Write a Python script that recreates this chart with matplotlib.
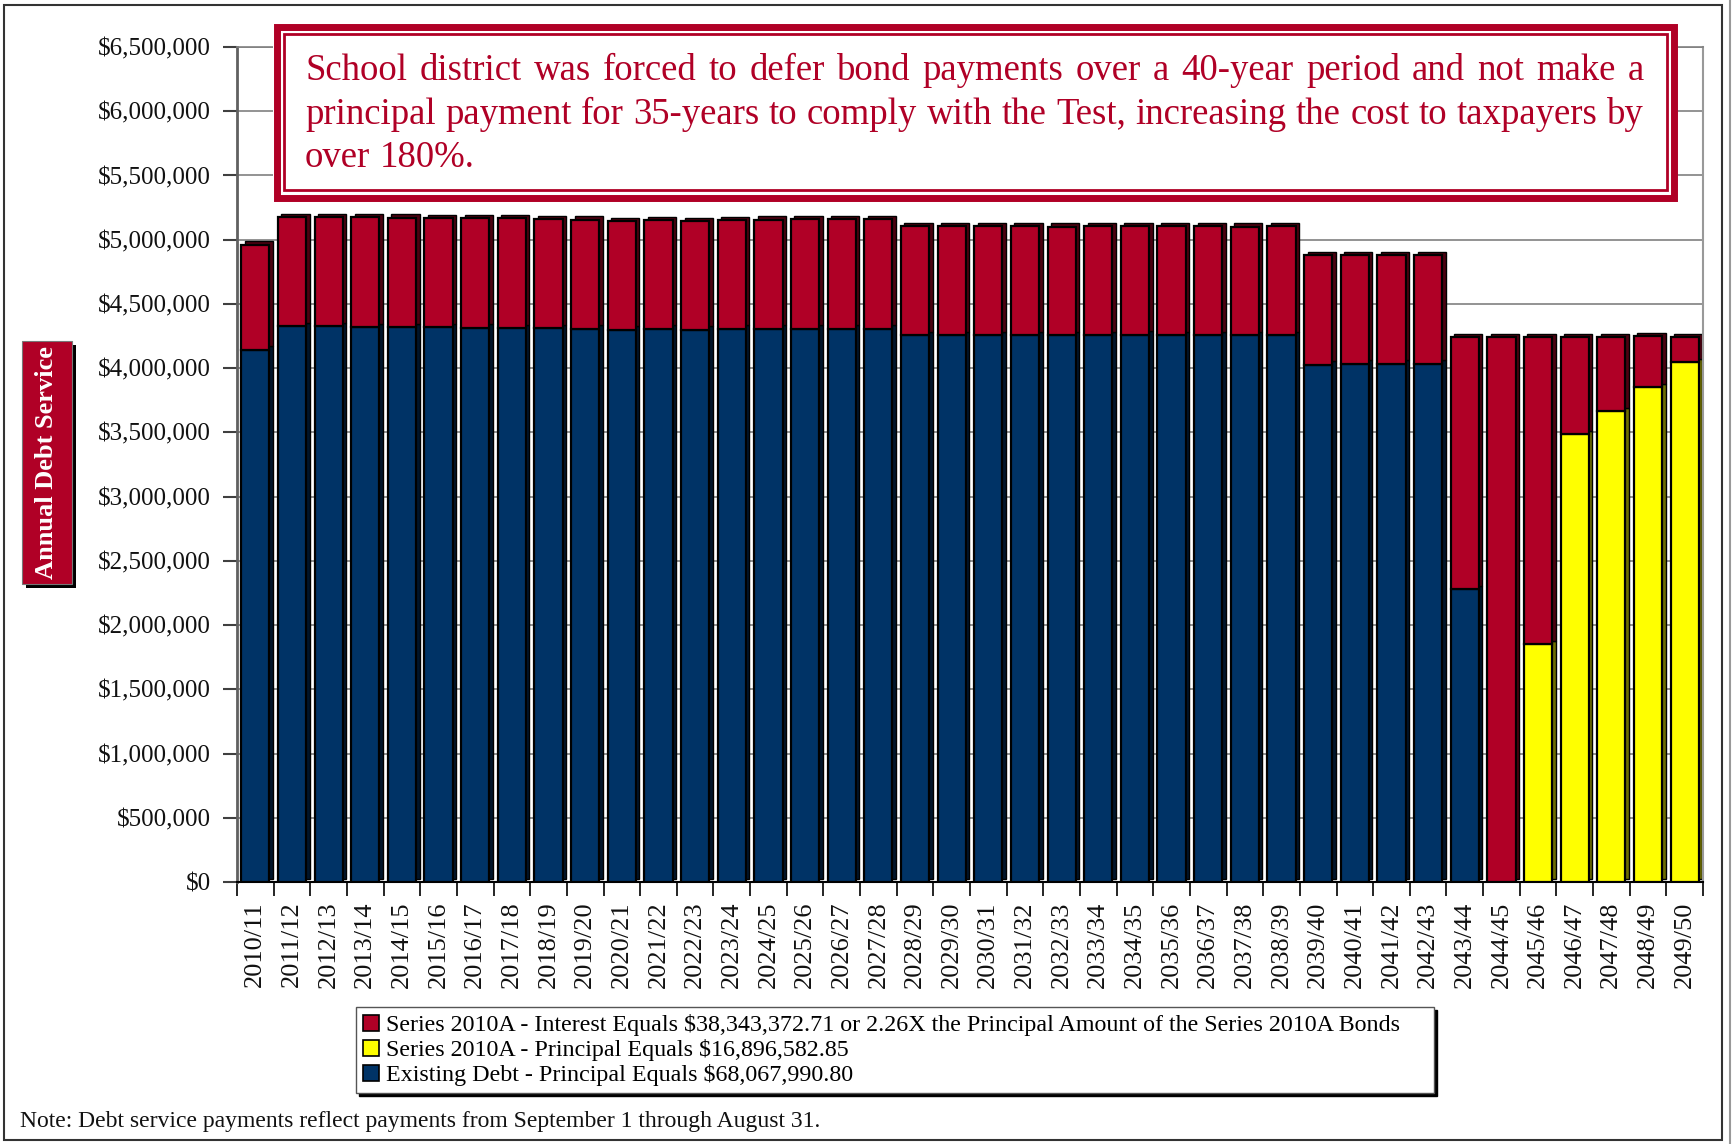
import matplotlib.pyplot as plt
import matplotlib.transforms as mtransforms
from matplotlib.patches import Rectangle, Patch
from matplotlib.ticker import FuncFormatter, FixedLocator
from matplotlib.lines import Line2D
import numpy as np

years = ['2010/11', '2011/12', '2012/13', '2013/14', '2014/15', '2015/16', '2016/17',
         '2017/18', '2018/19', '2019/20', '2020/21', '2021/22', '2022/23', '2023/24',
         '2024/25', '2025/26', '2026/27', '2027/28', '2028/29', '2029/30', '2030/31',
         '2031/32', '2032/33', '2033/34', '2034/35', '2035/36', '2036/37', '2037/38',
         '2038/39', '2039/40', '2040/41', '2041/42', '2042/43', '2043/44', '2044/45',
         '2045/46', '2046/47', '2047/48', '2048/49', '2049/50']

# existing debt service (blue)
existing_debt = [4145000, 4325000, 4325000, 4320000, 4320000, 4320000, 4315000,
                 4310000, 4310000, 4305000, 4300000, 4305000, 4300000, 4305000,
                 4305000, 4305000, 4305000, 4305000, 4255000, 4255000, 4255000,
                 4255000, 4255000, 4255000, 4260000, 4255000, 4255000, 4255000,
                 4255000, 4025000, 4035000, 4035000, 4035000, 2280000, 0,
                 0, 0, 0, 0, 0]

# series 2010A principal (yellow)
series_principal = [0] * 35 + [1850000, 3485000, 3665000, 3850000, 4045000]

# series 2010A interest (red)
series_interest = [815000, 850000, 850000, 855000, 850000, 845000, 850000,
                   855000, 850000, 850000, 845000, 845000, 845000, 845000,
                   850000, 855000, 855000, 855000, 850000, 850000, 850000,
                   850000, 845000, 850000, 845000, 850000, 850000, 845000,
                   850000, 855000, 845000, 845000, 845000, 1960000, 4240000,
                   2390000, 755000, 575000, 400000, 195000]

legend_labels = ['Series 2010A - Interest Equals $38,343,372.71 or 2.26X the Principal Amount of the Series 2010A Bonds',
                 'Series 2010A - Principal Equals $16,896,582.85',
                 'Existing Debt - Principal Equals $68,067,990.80']

note_text = 'Note: Debt service payments reflect payments from September 1 through August 31.'
callout_lines = ['School district was forced to defer bond payments over a 40-year period and not make a',
                 'principal payment for 35-years to comply with the Test, increasing the cost to taxpayers by',
                 'over 180%.']

RED = '#B00026'
NAVY = '#003366'
YELLOW = '#FFFF00'
SIDE = {RED: '#4c0010', NAVY: '#00152b', YELLOW: '#6e6e00'}

plt.rcParams['font.family'] = ['Liberation Serif', 'DejaVu Serif']

W, H = 1732, 1144
fig = plt.figure(figsize=(W / 100, H / 100), dpi=100)


def fx(px):
    return px / W


def fy(py):
    return 1 - py / H


def px_rect(x0, y0, x1, y1, **kw):
    return Rectangle((fx(x0), fy(y1)), (x1 - x0) / W, (y1 - y0) / H,
                     transform=fig.transFigure, **kw)


ax = fig.add_axes([fx(237), fy(882), (1703 - 237) / W, (882 - 47) / H])

x = np.arange(len(years))
width = 0.77
existing = np.array(existing_debt)
principal = np.array(series_principal)
interest = np.array(series_interest)

# fake 3D depth: darker copies shifted up/right behind each bar
shift = ax.transData + mtransforms.ScaledTranslation(0.035, 0.035, fig.dpi_scale_trans)
segments = [(existing, np.zeros(len(x)), NAVY),
            (principal, existing, YELLOW),
            (interest, existing + principal, RED)]
for vals, bottom, col in segments:
    mask = vals > 0
    ax.bar(x[mask], vals[mask], width, bottom=bottom[mask], color=SIDE[col],
           edgecolor='black', linewidth=1.0, transform=shift, zorder=2)
for vals, bottom, col in segments:
    mask = vals > 0
    ax.bar(x[mask], vals[mask], width, bottom=bottom[mask], color=col,
           edgecolor='black', linewidth=1.6, zorder=3)

ax.set_xlim(-0.5, len(years) - 0.5)
ax.set_ylim(0, 6500000)
ax.set_yticks(np.arange(0, 6500001, 500000))
ax.yaxis.set_major_formatter(FuncFormatter(lambda v, p: f'${v:,.0f}'))
ax.yaxis.grid(True, color='#808080', linewidth=1.2)
ax.set_axisbelow(True)

ax.xaxis.set_major_locator(FixedLocator(np.arange(-0.5, len(years), 1.0)))
ax.xaxis.set_major_formatter(FuncFormatter(lambda v, p: ''))
ax.xaxis.set_minor_locator(FixedLocator(x))
ax.set_xticklabels(years, minor=True, rotation=90, fontsize=19, color='#111111')
ax.tick_params(axis='x', which='major', length=10, width=1.2, color='black')
ax.tick_params(axis='x', which='minor', length=0, pad=14)
ax.tick_params(axis='y', length=10, width=1.5, color='#404040', pad=9,
               labelsize=18, labelcolor='#111111')

ax.spines['left'].set_color('#606060')
ax.spines['left'].set_linewidth(2.0)
ax.spines['bottom'].set_color('black')
ax.spines['bottom'].set_linewidth(1.5)
ax.spines['top'].set_color('#808080')
ax.spines['top'].set_linewidth(1.2)
ax.spines['right'].set_color('#999999')
ax.spines['right'].set_linewidth(1.5)

# outer frame
fig.patches.append(px_rect(4, 5, 1722, 1140, fill=False, edgecolor='#333333', linewidth=1.5))
fig.lines.append(Line2D([fx(1730), fx(1730)], [fy(0), fy(1144)], transform=fig.transFigure,
                        color='#999999', linewidth=1.5))

# y-axis label box with shadow
fig.patches.append(px_rect(26, 345, 76, 588, facecolor='black', edgecolor='none'))
fig.patches.append(px_rect(21.5, 341, 71.5, 584, facecolor=RED, edgecolor='#777777', linewidth=0.8))
fig.text(fx(47), fy(462.5), 'Annual Debt Service', rotation=90, ha='center', va='center',
         color='white', fontsize=19, fontweight='bold', zorder=5)

# callout box
fig.patches.append(px_rect(273, 24, 1677, 201, facecolor='white', edgecolor='none'))
fig.patches.append(px_rect(276.5, 27.5, 1673.5, 197.5, fill=False, edgecolor=RED, linewidth=5.0))
fig.patches.append(px_rect(283.5, 34.5, 1666.5, 190.5, fill=False, edgecolor=RED, linewidth=2.0))

renderer = fig.canvas.get_renderer()
text_left, text_right = 305, 1644
baselines = [80, 123.5, 167]
fsize = 26.5
for i, line in enumerate(callout_lines):
    words = line.split()
    items = [fig.text(0, fy(baselines[i]), w, fontsize=fsize, color=RED,
                      va='baseline', ha='left', zorder=5) for w in words]
    widths = [t.get_window_extent(renderer).width for t in items]
    if i < len(callout_lines) - 1:
        gap = (text_right - text_left - sum(widths)) / (len(words) - 1)
    else:
        gap = fsize * 100 / 72 * 0.25
    pos = text_left
    for t, w in zip(items, widths):
        t.set_x(fx(pos))
        pos += w + gap

# legend
handles = [Patch(facecolor=RED, edgecolor='black', linewidth=1.2),
           Patch(facecolor=YELLOW, edgecolor='black', linewidth=1.2),
           Patch(facecolor=NAVY, edgecolor='black', linewidth=1.2)]
leg = fig.legend(handles, legend_labels, loc='upper left',
                 bbox_to_anchor=(fx(356), fy(1094), (1434 - 356) / W, (1094 - 1007) / H),
                 mode='expand', fontsize=17.3, frameon=True, fancybox=False,
                 shadow={'color': 'black', 'alpha': 1.0}, handlelength=0.65, handleheight=0.65,
                 handletextpad=0.3, labelspacing=0.12, borderpad=0.3, borderaxespad=0)
leg.get_frame().set_edgecolor('#555555')
leg.get_frame().set_linewidth(1.0)

fig.text(fx(20), fy(1127), note_text, fontsize=17, color='#111111', va='baseline', ha='left')

fig.savefig('out.png', dpi=100)
